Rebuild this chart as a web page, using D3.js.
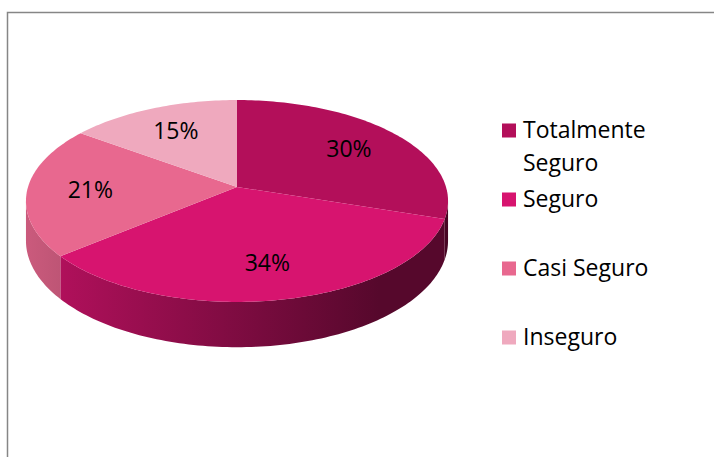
<!DOCTYPE html>
<html>
<head>
<meta charset="utf-8">
<script src="https://cdn.jsdelivr.net/npm/d3@7"></script>
<style>
  html, body { margin: 0; padding: 0; background: #fff; }
  svg { display: block; }
  text { font-family: "Open Sans", "Noto Sans", sans-serif; fill: #000; }
</style>
</head>
<body>
<svg id="chart" width="714" height="457"></svg>
<script>
const categories = ["Totalmente Seguro", "Seguro", "Casi Seguro", "Inseguro"];
const values = [30, 34, 21, 15];
const colors = ["#b30f5a", "#d7146f", "#e8688f", "#efa9be"];

const svg = d3.select("#chart");

// chart frame (only top and left edges fall inside the picture)
svg.append("rect")
  .attr("x", 7.5).attr("y", 12.5)
  .attr("width", 800).attr("height", 600)
  .attr("fill", "#fff")
  .attr("stroke", "#868686")
  .attr("stroke-width", 1.5);

// perspective 3d pie: disk projected through a simple homography
const cx = 237, cy = 187;
const A = 209, B = 99, persp = 0.1387, depth = 39;
const labelRadius = 0.7;

function project(angle, r, drop) {
  const u = r * Math.sin(angle);
  const v = r * Math.cos(angle);
  const den = 1 + persp * v;
  return [cx + (A * u) / den, cy + (-B * v + drop * depth) / den];
}

function arcPoints(a0, a1, drop) {
  const n = Math.max(2, Math.ceil(Math.abs(a1 - a0) / 0.02));
  return d3.range(n + 1).map((i) => project(a0 + ((a1 - a0) * i) / n, 1, drop));
}

const line = d3.line();
const arcs = d3.pie().sort(null).value((d) => d)(values);

const defs = svg.append("defs");
const shadeStops = [
  { offset: 0, mix: 0.13 },
  { offset: 0.09, mix: 0.19 },
  { offset: 0.84, mix: 0.6 },
  { offset: 1, mix: 0.6 },
];

arcs.forEach((arc, i) => {
  const grad = defs.append("linearGradient")
    .attr("id", `side-${i}`)
    .attr("gradientUnits", "userSpaceOnUse")
    .attr("x1", cx - A).attr("x2", cx + A)
    .attr("y1", 0).attr("y2", 0);
  grad.selectAll("stop")
    .data(shadeStops)
    .join("stop")
    .attr("offset", (s) => s.offset)
    .attr("stop-color", (s) => d3.interpolateRgb(colors[i], "#000")(s.mix));
});

// visible front wall lies between the two silhouette angles
const frontStart = Math.acos(-persp);
const frontEnd = 2 * Math.PI - frontStart;

const sides = svg.append("g").attr("class", "pie-sides");
arcs.forEach((arc, i) => {
  const s = Math.max(arc.startAngle, frontStart);
  const e = Math.min(arc.endAngle, frontEnd);
  if (e <= s) return;
  const pts = arcPoints(s, e, 0).concat(arcPoints(e, s, 1));
  sides.append("path")
    .attr("d", line(pts) + "Z")
    .attr("fill", `url(#side-${i})`);
});

const tops = svg.append("g").attr("class", "pie-tops");
tops.selectAll("path")
  .data(arcs)
  .join("path")
  .attr("d", (d) => line([[cx, cy]].concat(arcPoints(d.startAngle, d.endAngle, 0))) + "Z")
  .attr("fill", (d, i) => colors[i]);

const total = d3.sum(values);
tops.selectAll("text")
  .data(arcs)
  .join("text")
  .attr("text-anchor", "middle")
  .attr("dominant-baseline", "central")
  .attr("font-size", 23)
  .attr("x", (d) => project((d.startAngle + d.endAngle) / 2, labelRadius, 0)[0])
  .attr("y", (d) => project((d.startAngle + d.endAngle) / 2, labelRadius, 0)[1])
  .text((d) => d3.format(".0%")(d.value / total));

// legend
const legendX = 502, legendTop = 137.5, itemGap = 69, lineGap = 33.5;
const legend = svg.append("g").attr("class", "legend");

categories.forEach((name, i) => {
  const baseY = legendTop + i * itemGap;
  legend.append("rect")
    .attr("x", legendX).attr("y", baseY - 14)
    .attr("width", 14).attr("height", 14)
    .attr("fill", colors[i]);

  const text = legend.append("text")
    .attr("x", legendX + 21)
    .attr("y", baseY)
    .attr("font-size", 23);

  // wrap words that would run past the legend area
  const words = name.split(" ");
  let tspan = text.append("tspan").attr("x", legendX + 21).attr("y", baseY);
  let current = [];
  let row = 0;
  words.forEach((word) => {
    current.push(word);
    tspan.text(current.join(" "));
    if (tspan.node().getComputedTextLength() > 160 && current.length > 1) {
      current.pop();
      tspan.text(current.join(" "));
      current = [word];
      row += 1;
      tspan = text.append("tspan")
        .attr("x", legendX + 21)
        .attr("y", baseY + row * lineGap)
        .text(word);
    }
  });
});
</script>
</body>
</html>
